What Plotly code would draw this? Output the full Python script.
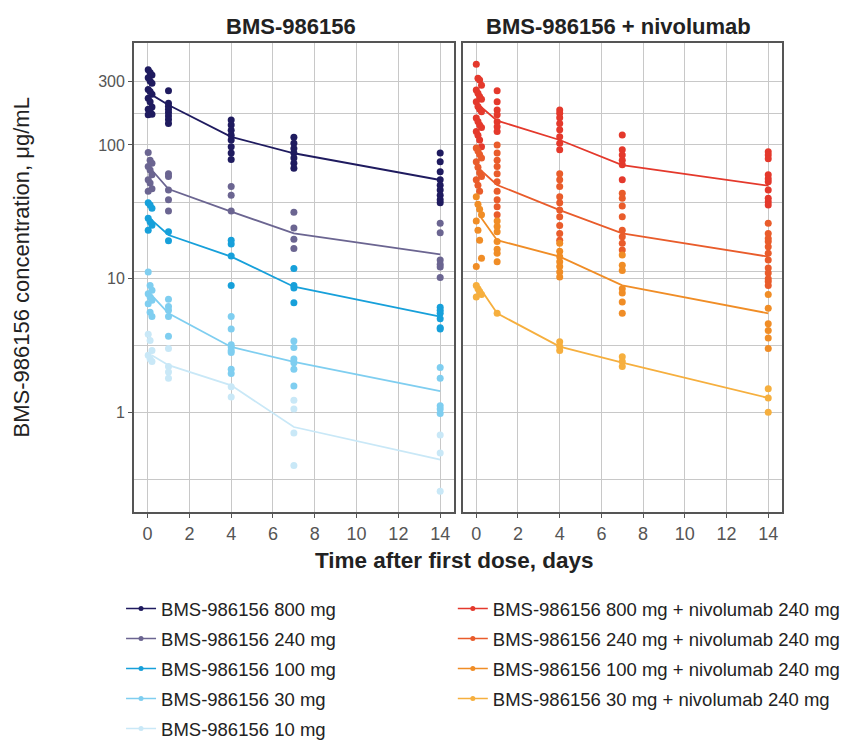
import plotly.graph_objects as go

# ---------------- data ----------------
days_line = [0.2, 1, 4, 7, 14]
day0_times_mono = [0.03, 0.12, 0.21]
day0_times_combo = [0.0, 0.08, 0.16, 0.25]

# BMS-986156 monotherapy observations: {nominal day: [concentrations]}
mono_800 = {0: [365, 348, 334, 319, 301, 290, 260, 251, 240, 224, 211, 192, 185, 177, 170, 168],
            1: [255, 205, 195, 185, 175, 165, 155, 145],
            4: [154, 141, 129, 118, 109, 97, 87, 78],
            7: [114, 103, 94, 87, 80, 73, 67],
            14: [87, 75, 63, 55, 50, 46, 42, 39, 37]}
mono_240 = {0: [88, 77, 73, 69, 65, 60, 55, 52, 47, 45],
            1: [61, 58, 46, 39, 32],
            4: [49, 42, 32],
            7: [31.4, 23.9, 19.7, 16.8],
            14: [26, 22, 13.8, 12.8, 12.2, 10.2]}
mono_100 = {0: [37, 35.6, 33.6, 28.3, 26.7, 25.1, 23],
            1: [22.4, 19.2],
            4: [19.4, 18.2, 14.8, 8.9],
            7: [11.9, 8.9, 8.5, 6.6],
            14: [6.1, 5.8, 5.5, 5.0, 4.3, 4.2]}
mono_30 = {0: [11.2, 8.9, 8.2, 7.7, 7.3, 6.9, 6.5, 5.6, 5.2],
           1: [7.0, 6.2, 5.8, 5.2, 3.7],
           4: [5.2, 4.2, 3.2, 3.08, 2.9, 2.8, 2.1, 1.95],
           7: [3.42, 3.05, 2.5, 2.35, 2.1, 1.57],
           14: [2.16, 1.8, 1.12, 1.06, 0.98]}
mono_10 = {0: [3.84, 3.45, 2.9, 2.67, 2.5, 2.4],
           1: [3.0, 2.2, 2.0, 1.8],
           4: [1.55, 1.3],
           7: [1.23, 1.06, 0.70, 0.40],
           14: [0.676, 0.496, 0.257]}

# BMS-986156 + nivolumab observations
combo_800 = {0: [402, 316, 306, 280, 258, 244, 231, 220, 211, 194, 185, 177, 159, 150, 141, 135, 126, 118, 109, 97],
             1: [255, 211, 183, 168, 149, 137, 126],
             4: [183, 173, 160, 145, 130, 115, 103, 92],
             7: [119, 92, 84, 77, 71, 55],
             14: [89, 84, 79, 60, 56, 53, 46, 40, 37.6, 35.6]}
combo_240 = {0: [95, 90, 85, 80, 75, 68, 62, 58, 55, 50, 45],
             1: [100, 87, 77, 69, 61, 53, 45, 39, 34.5, 30],
             4: [61, 55, 49, 41, 37, 32.6, 29, 25, 21.8, 19.4],
             7: [43.5, 40, 35, 29, 23, 20.6, 18.4, 16.4],
             14: [26, 21.8, 20, 19, 17.3, 15.5, 13.8, 12, 11, 10, 9.5, 8.9]}
combo_100 = {0: [41, 36, 33, 30, 27, 23, 19.4, 14.2, 12.3],
             1: [27, 24.5, 22.4, 19, 16.6, 15.5, 13.4],
             4: [18.4, 16, 14.6, 13.4, 12.3, 11.2, 10.3],
             7: [15, 12.6, 11.5, 8.4, 7.8, 6.7, 5.5],
             14: [7.6, 6.0, 4.6, 4.1, 3.6, 3.0]}
combo_30 = {0: [8.9, 8.4, 8.0, 7.6, 7.3],
            1: [5.5],
            4: [3.37, 3.1, 2.9],
            7: [2.6, 2.4, 2.2],
            14: [1.5, 1.28, 1.0]}

# Mean profiles (lines)
mono_800_mean = [237, 199, 115, 86.7, 54.7]
mono_240_mean = [65, 46.8, 31.7, 21.8, 15.2]
mono_100_mean = [27.4, 21.2, 14.6, 8.7, 5.2]
mono_30_mean = [7.5, 5.5, 3.08, 2.38, 1.44]
mono_10_mean = [2.67, 2.25, 1.59, 0.776, 0.443]
combo_800_mean = [194, 152, 109, 70.8, 49.6]
combo_240_mean = [65, 50.2, 32.6, 21.8, 14.6]
combo_100_mean = [29, 19.4, 14.6, 8.9, 5.5]
combo_30_mean = [8.4, 5.5, 3.1, 2.35, 1.28]

mono_names = ["BMS-986156 800 mg", "BMS-986156 240 mg", "BMS-986156 100 mg",
              "BMS-986156 30 mg", "BMS-986156 10 mg"]
combo_names = ["BMS-986156 800 mg + nivolumab 240 mg", "BMS-986156 240 mg + nivolumab 240 mg",
               "BMS-986156 100 mg + nivolumab 240 mg", "BMS-986156 30 mg + nivolumab 240 mg"]
mono_colors = ["#1f1b5f", "#6b6591", "#17a0da", "#7fcef0", "#c9e8f7"]
combo_colors = ["#e4392c", "#e95c2b", "#f08d26", "#f6af3e"]

x_ticks = [0, 2, 4, 6, 8, 10, 12, 14]
y_ticks = [1, 10, 100, 300]
y_ticklabels = ["1", "10", "100", "300"]
y_minor_grid = [0.316, 3.16, 11.4, 37, 173]

mono_obs = [mono_800, mono_240, mono_100, mono_30, mono_10]
mono_means = [mono_800_mean, mono_240_mean, mono_100_mean, mono_30_mean, mono_10_mean]
combo_obs = [combo_800, combo_240, combo_100, combo_30]
combo_means = [combo_800_mean, combo_240_mean, combo_100_mean, combo_30_mean]


def expand(obs, day0_times):
    xs, ys = [], []
    for d, vals in obs.items():
        for i, v in enumerate(vals):
            xs.append(day0_times[i % len(day0_times)] if d == 0 else d)
            ys.append(v)
    return xs, ys


fig = go.Figure()

panels = [
    (mono_obs, mono_means, mono_names, mono_colors, "x", "y", "legend", day0_times_mono),
    (combo_obs, combo_means, combo_names, combo_colors, "x2", "y2", "legend2", day0_times_combo),
]
for obs_list, means, names, colors, xa, ya, leg, d0 in panels:
    for obs, mean, name, col in zip(obs_list, means, names, colors):
        xs, ys = expand(obs, d0)
        fig.add_trace(go.Scatter(x=xs, y=ys, mode="markers", xaxis=xa, yaxis=ya,
                                 marker=dict(color=col, size=7), showlegend=False,
                                 hoverinfo="skip"))
    for mean, name, col in zip(means, names, colors):
        fig.add_trace(go.Scatter(x=days_line, y=mean, mode="lines", xaxis=xa, yaxis=ya,
                                 line=dict(color=col, width=1.8), showlegend=False))
    for name, col in zip(names, colors):
        fig.add_trace(go.Scatter(x=[None], y=[None], mode="lines+markers", name=name,
                                 legend=leg, legendgroup=name,
                                 line=dict(color=col, width=1.5),
                                 marker=dict(color=col, size=5)))

grid_col = "#c8c8c8"
frame_col = "#555555"
tick_font = dict(family="Liberation Sans, Arial, sans-serif", size=18, color="#555555")

xcommon = dict(range=[-0.65, 14.66], tickvals=x_ticks, showgrid=True, gridcolor=grid_col,
               gridwidth=1.3, zeroline=False, showline=True, linecolor=frame_col, linewidth=1.8,
               mirror=True, ticks="outside", ticklen=4, tickcolor=frame_col, tickfont=tick_font)
ycommon = dict(type="log", range=[-0.746, 2.763], tickvals=y_ticks, ticktext=y_ticklabels,
               showgrid=True, gridcolor=grid_col, gridwidth=1.3, zeroline=False, showline=True,
               linecolor=frame_col, linewidth=1.8, mirror=True,
               minor=dict(tickvals=y_minor_grid, showgrid=True, gridcolor=grid_col,
                          gridwidth=1.3, ticks=""))

# the page body adds an 8 px offset; size the figure so it fits the 849x742 window
fig.update_layout(
    width=841, height=734,
    margin=dict(l=126, r=67, t=35, b=230, autoexpand=False),
    paper_bgcolor="white", plot_bgcolor="white",
    font=dict(family="Liberation Sans, Arial, sans-serif", color="#222222"),
    xaxis=dict(domain=[0, 0.4938], **xcommon),
    xaxis2=dict(domain=[0.5073, 1], anchor="y2", **xcommon),
    yaxis=dict(ticks="outside", ticklen=4, tickcolor=frame_col,
               tickfont=dict(family="Liberation Sans, Arial, sans-serif", size=16, color="#555555"),
               **ycommon),
    yaxis2=dict(anchor="x2", matches="y", showticklabels=False, ticks="", **ycommon),
    legend=dict(x=-0.02, y=-0.166, xanchor="left", yanchor="top", orientation="v",
                font=dict(size=18.5, color="#222222"), tracegroupgap=3, bgcolor="rgba(0,0,0,0)"),
    legend2=dict(x=0.492, y=-0.166, xanchor="left", yanchor="top", orientation="v",
                 font=dict(size=18.5, color="#222222"), tracegroupgap=3, bgcolor="rgba(0,0,0,0)"),
    annotations=[
        dict(text="<b>BMS-986156</b>", x=0.242, y=1.036, xref="paper", yref="paper",
             showarrow=False, font=dict(size=22, color="#222222"), xanchor="center", yanchor="middle"),
        dict(text="<b>BMS-986156 + nivolumab</b>", x=0.748, y=1.036, xref="paper", yref="paper",
             showarrow=False, font=dict(size=22, color="#222222"), xanchor="center", yanchor="middle"),
        dict(text="<b>Time after first dose, days</b>", x=0.494, y=-0.104, xref="paper", yref="paper",
             showarrow=False, font=dict(size=22.5, color="#222222"), xanchor="center", yanchor="middle"),
        dict(text="BMS-986156 concentration, μg/mL", x=-0.173, y=0.521, xref="paper", yref="paper",
             showarrow=False, textangle=-90, font=dict(size=22, color="#222222"),
             xanchor="center", yanchor="middle"),
    ],
)

fig.write_html("out.html")
